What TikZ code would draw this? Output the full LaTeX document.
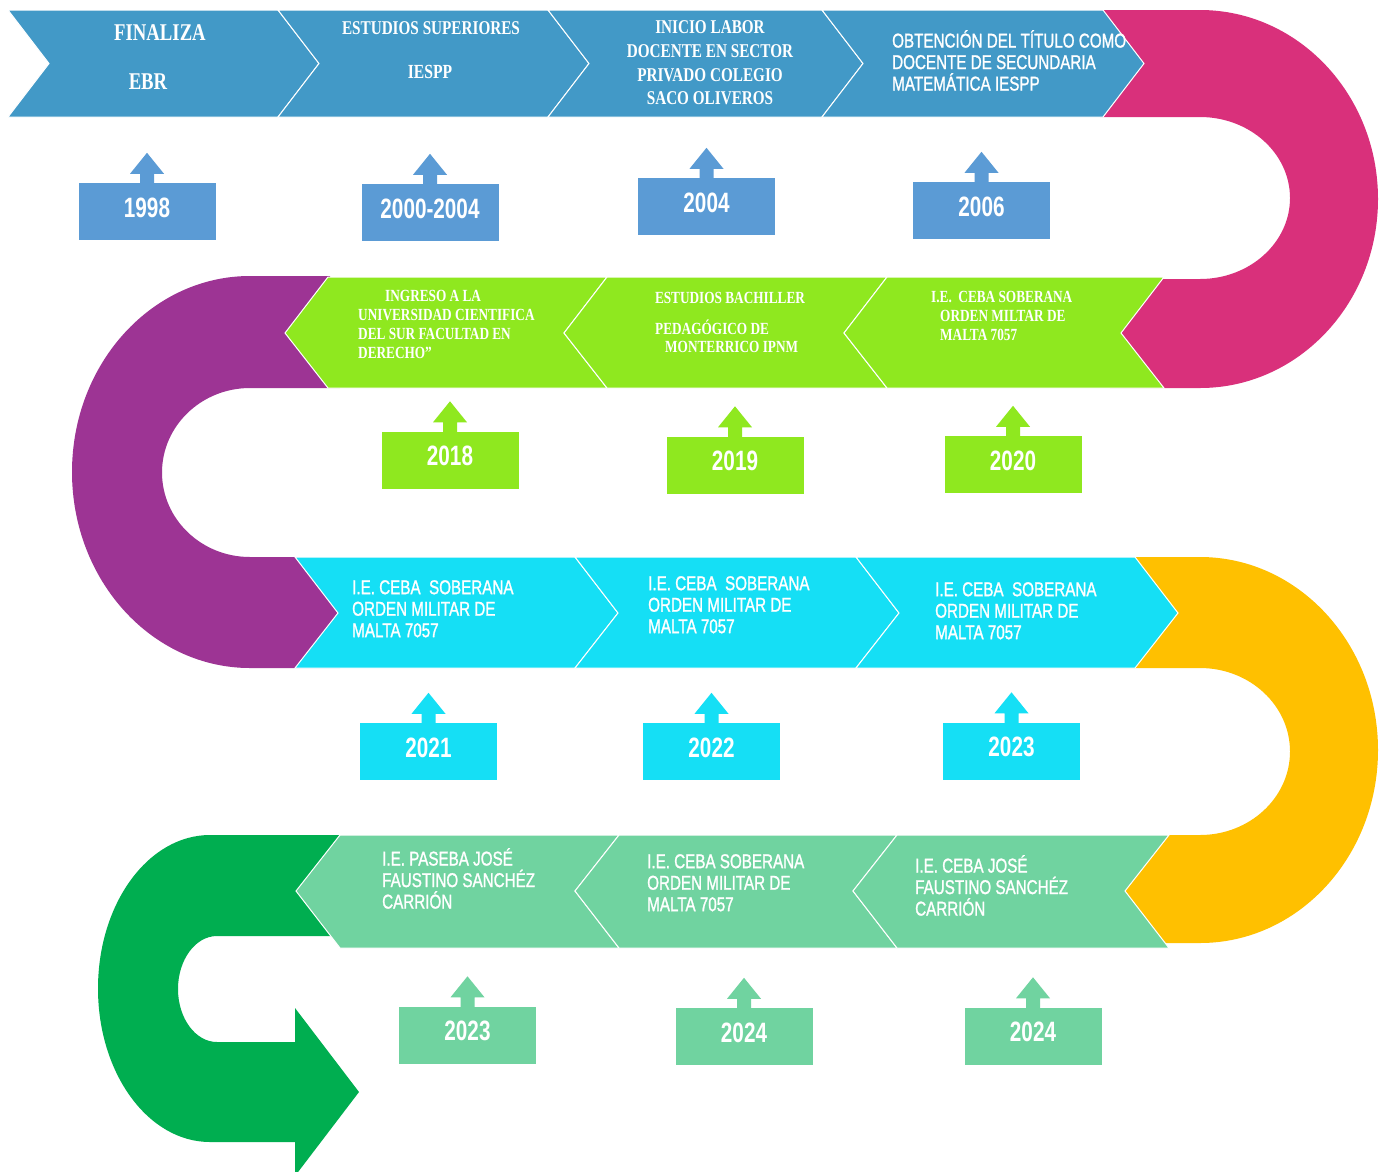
\documentclass[tikz,border=0pt]{standalone}
\usepackage{fontspec}
\usepackage{tikz}
\newfontfamily\cvserif[FakeStretch=0.78]{Liberation Serif}
\newfontfamily\cvsans[FakeStretch=0.76, FakeBold=1.2]{Liberation Sans}
\newfontfamily\cvyear[FakeStretch=0.74]{Liberation Sans}
\definecolor{rowone}{RGB}{66,153,199}
\definecolor{rowonebox}{RGB}{91,155,213}
\definecolor{turnpink}{RGB}{217,48,123}
\definecolor{rowtwo}{RGB}{143,232,31}
\definecolor{turnpurple}{RGB}{157,52,148}
\definecolor{rowthree}{RGB}{21,223,245}
\definecolor{turnyellow}{RGB}{255,192,0}
\definecolor{rowfour}{RGB}{112,211,160}
\definecolor{turngreen}{RGB}{0,174,80}
\tikzset{
    chev/.style = {fill=#1, draw=white, line width=1pt},
    year-box/.style = {fill=#1, rectangle, minimum width=137pt, minimum height=57pt, inner sep=0pt, text=white, font=\cvyear\bfseries\fontsize{28}{30}\selectfont, text height=21pt, text depth=10pt},
    serif-txt/.style 2 args = {text=white, inner sep=0pt, font=\cvserif\bfseries\fontsize{#1}{#2}\selectfont},
    sans-txt/.style 2 args = {text=white, inner sep=0pt, align=left, anchor=north west, font=\cvsans\fontsize{#1}{#2}\selectfont},
}

\begin{document}
\begin{tikzpicture}[x=1pt, y=-1pt]
\clip (0,0) rectangle (1387,1171);
\fill[white] (0,0) rectangle (1387,1171);

\fill[turnpink] (1100,10) -- (1200,10) arc[start angle=-90, end angle=90, x radius=178, y radius=189] -- (1110,388) -- (1110,279) -- (1200,279) arc[start angle=90, end angle=-90, x radius=90, y radius=81] -- (1100,117) -- cycle;
\fill[turnpurple] (330,276) -- (250,276) arc[start angle=-90, end angle=-270, x radius=178, y radius=196] -- (340,668) -- (340,557) -- (250,557) arc[start angle=90, end angle=270, x radius=88, y radius=84.5] -- (340,388) -- (330,388) -- cycle;
\fill[turnyellow] (1100,557) -- (1200,557) arc[start angle=-90, end angle=90, x radius=178, y radius=193] -- (1115,943) -- (1115,835) -- (1200,835) arc[start angle=90, end angle=-90, x radius=90, y radius=83.5] -- (1100,668) -- cycle;
\fill[turngreen] (345,835) -- (210,835) arc[start angle=-90, end angle=-270, x radius=112, y radius=153.5] -- (295,1142) -- (295,1176) -- (359,1092) -- (295,1008) -- (295,1042) -- (217,1042) arc[start angle=90, end angle=270, x radius=39, y radius=53] -- (345,936) -- cycle;

\foreach \l/\r in {8/278, 278/548, 548/822, 822/1103}
  \path[chev=rowone] (\l,10) -- (\r,10) -- (\r+41,63.5) -- (\r,117) -- (\l,117) -- (\l+41,63.5) -- cycle;
\foreach \l/\r in {328/607, 607/887, 887/1164}
  \path[chev=rowtwo] (\l,277) -- (\r,277) -- (\r-43,333) -- (\r,388) -- (\l,388) -- (\l-43,333) -- cycle;
\foreach \l/\r in {295/575, 575/856, 856/1135}
  \path[chev=rowthree] (\l,557) -- (\r,557) -- (\r+43,613) -- (\r,668) -- (\l,668) -- (\l+43,613) -- cycle;
\foreach \l/\r in {340/619, 619/897, 897/1169}
  \path[chev=rowfour] (\l,835) -- (\r,835) -- (\r-44,891) -- (\r,948) -- (\l,948) -- (\l-44,891) -- cycle;

\node[serif-txt={24}{28}] (finaliza) at (160,33) {FINALIZA};
\node[serif-txt={24}{28}] (ebr) at (148,82) {EBR};
\node[serif-txt={19.5}{24}] (estudios) at (431,28) {ESTUDIOS SUPERIORES};
\node[serif-txt={20}{24}] (iespp) at (430,72) {IESPP};
\node[serif-txt={19.5}{23.7}, align=center, anchor=north] (inicio) at (710,20.5) {INICIO LABOR\\DOCENTE EN SECTOR\\PRIVADO COLEGIO\\SACO OLIVEROS};
\node[sans-txt={20}{21.5}] (titulo) at (892,30) {OBTENCIÓN DEL TÍTULO COMO\\DOCENTE DE SECUNDARIA\\MATEMÁTICA IESPP};

\node[serif-txt={17}{18.7}, align=left, anchor=north west] (ingreso) at (358,290.5) {\hspace*{27pt}INGRESO A LA\\UNIVERSIDAD CIENTIFICA\\DEL SUR FACULTAD EN\\DERECHO”};
\node[serif-txt={17}{18.7}] (bachiller) at (730,298) {ESTUDIOS BACHILLER};
\node[serif-txt={17}{18}, align=left, anchor=north west] (ipnm) at (655,320) {PEDAGÓGICO DE\\\hspace*{10pt}MONTERRICO IPNM};
\node[serif-txt={17}{19}, align=left, anchor=north west] (ceba-a) at (931,291.4) {I.E.\ \ CEBA SOBERANA\\\hspace*{9pt}ORDEN MILTAR DE\\\hspace*{9pt}MALTA 7057};

\node[sans-txt={20}{21.5}] (ceba-b) at (352,580) {I.E. CEBA\ \ SOBERANA\\ORDEN MILITAR DE\\MALTA 7057};
\node[sans-txt={20}{21.5}] (ceba-c) at (648,576) {I.E. CEBA\ \ SOBERANA\\ORDEN MILITAR DE\\MALTA 7057};
\node[sans-txt={20}{21.5}] (ceba-d) at (935,582) {I.E. CEBA\ \ SOBERANA\\ORDEN MILITAR DE\\MALTA 7057};

\node[sans-txt={20}{21.5}] (paseba) at (382,848) {I.E. PASEBA JOSÉ\\FAUSTINO SANCHÉZ\\CARRIÓN};
\node[sans-txt={20}{21.5}] (ceba-e) at (647,854) {I.E. CEBA SOBERANA\\ORDEN MILITAR DE\\MALTA 7057};
\node[sans-txt={20}{21.5}] (faustino) at (915,855) {I.E. CEBA JOSÉ\\FAUSTINO SANCHÉZ\\CARRIÓN};

\foreach \nm/\yr/\cx/\cy/\col in {y1998/1998/147/211.5/rowonebox, y2000/2000-2004/430/212.5/rowonebox, y2004/2004/706.5/206.5/rowonebox, y2006/2006/981.5/210.5/rowonebox,
    y2018/2018/450/460/rowtwo, y2019/2019/735/465/rowtwo, y2020/2020/1013/464.5/rowtwo,
    y2021/2021/428.5/751.5/rowthree, y2022/2022/711.5/751.5/rowthree, y2023a/2023/1011.5/751/rowthree,
    y2023b/2023/467.5/1035/rowfour, y2024a/2024/744/1036.5/rowfour, y2024b/2024/1033/1036/rowfour} {
  \node[year-box=\col] (\nm) at (\cx,\cy) {\yr};
  \fill[\col] (\nm.north) ++(-7,1) -- ++(0,-10) -- ++(-10,0) -- ++(17,-21) -- ++(17,21) -- ++(-10,0) -- ++(0,10) -- cycle;
}
\end{tikzpicture}
\end{document}
